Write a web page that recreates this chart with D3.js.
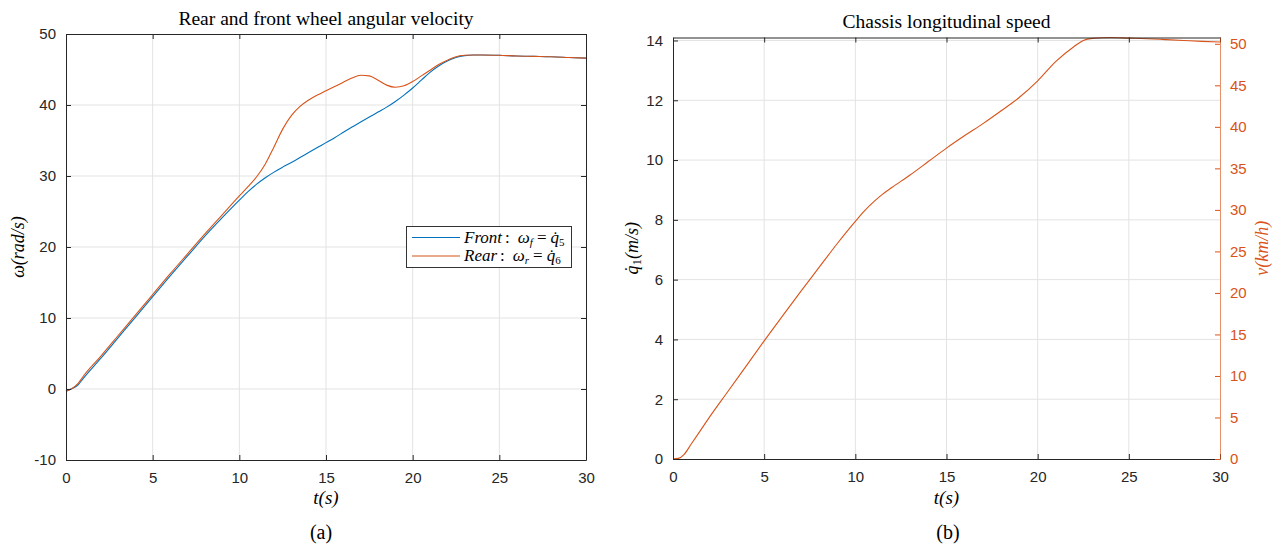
<!DOCTYPE html>
<html><head><meta charset="utf-8">
<script src="https://cdn.jsdelivr.net/npm/d3@7"></script>
<style>
body{margin:0;background:#fff;}
svg{display:block;}
</style></head>
<body>
<svg id="chart" width="1272" height="555"></svg>
<script>
// ---------------- DATA ----------------
const timeA = [0,0.3,0.7,1,2,3,4,5,6,7,8,9,10,10.5,11,11.5,12,12.5,13,13.5,14,14.5,15,15.5,16,16.5,17,17.5,18,18.5,19,19.5,20,20.5,21,21.5,22,22.5,23,23.5,24,25,26,27,28,29,30];
const frontOmega = [-0.3,0,0.6,1.5,4.3,7.2,10.1,13.0,15.9,18.7,21.5,24.1,26.6,27.8,28.85,29.75,30.55,31.25,31.9,32.6,33.3,34.0,34.7,35.4,36.15,36.9,37.6,38.3,39.0,39.7,40.5,41.4,42.4,43.5,44.6,45.5,46.2,46.7,46.95,47.05,47.05,47.0,46.9,46.85,46.8,46.7,46.6];
const rearOmega = [-0.3,0,0.8,1.8,4.6,7.5,10.4,13.3,16.2,19.0,21.8,24.5,27.2,28.5,29.9,31.7,34.1,36.6,38.5,39.8,40.7,41.4,42.0,42.6,43.2,43.8,44.2,44.1,43.5,42.8,42.5,42.7,43.3,44.1,44.9,45.7,46.3,46.8,47.0,47.05,47.05,47.0,46.9,46.85,46.8,46.7,46.6];

const timeB = [0,0.3,0.6,1,1.5,2,3,4,5,6,7,8,9,10,10.5,11,11.5,12,13,14,15,16,17,18,19,20,21,22,22.5,23,24,25,26,27,28,29,30];
const chassisSpeed = [0,0.02,0.15,0.5,0.95,1.4,2.25,3.1,3.95,4.78,5.6,6.4,7.2,7.95,8.3,8.6,8.86,9.08,9.5,9.95,10.4,10.82,11.22,11.65,12.1,12.65,13.3,13.8,14.0,14.07,14.1,14.08,14.06,14.03,14.0,13.97,13.95];

const xTicks = [0,5,10,15,20,25,30];
const yTicksA = [-10,0,10,20,30,40,50];
const yTicksB = [0,2,4,6,8,10,12,14];
const yTicksBRight = [0,5,10,15,20,25,30,35,40,45,50];
const msToKmh = 3.6;

// ---------------- STYLE ----------------
const BLUE = "#0072BD", ORANGE = "#D95319";
const AXIS = "#262626", GRID = "#e3e3e3";
const SANS = "'Liberation Sans', Arial, sans-serif";
const SERIF = "'Liberation Serif', 'DejaVu Serif', serif";
const fmt = d => String(d);

const svg = d3.select("#chart");

function panel(cfg) {
  const g = svg.append("g");
  const x = d3.scaleLinear().domain([0,30]).range([cfg.x0, cfg.x1]);
  const y = d3.scaleLinear().domain(cfg.yDomain).range([cfg.y1, cfg.y0]);
  g.append("g").selectAll("line").data(xTicks.slice(1,-1)).join("line")
    .attr("x1", d=>x(d)).attr("x2", d=>x(d)).attr("y1", cfg.y0).attr("y2", cfg.y1)
    .attr("stroke", GRID).attr("stroke-width", 1);
  g.append("g").selectAll("line").data(cfg.yTicks.filter(d=>y(d)>cfg.y0+1 && y(d)<cfg.y1-1)).join("line")
    .attr("x1", cfg.x0).attr("x2", cfg.x1).attr("y1", d=>y(d)).attr("y2", d=>y(d))
    .attr("stroke", GRID).attr("stroke-width", 1);
  return {g, x, y};
}

function styleAxis(sel, color) {
  sel.selectAll("text").attr("font-family", SANS).attr("font-size", 15).attr("fill", color);
  sel.selectAll("line").attr("stroke", color);
  sel.select(".domain").attr("stroke", color);
}

// ======== Panel A ========
const A = {x0:66, x1:586, y0:34, y1:460, yDomain:[-10,50], yTicks:yTicksA};
const pa = panel(A);
const lineA = d3.line().x(d=>pa.x(d[0])).y(d=>pa.y(d[1])).curve(d3.curveMonotoneX);
pa.g.append("path").datum(timeA.map((t,i)=>[t,frontOmega[i]]))
  .attr("d", lineA).attr("fill","none").attr("stroke", BLUE).attr("stroke-width",1.1);
pa.g.append("path").datum(timeA.map((t,i)=>[t,rearOmega[i]]))
  .attr("d", lineA).attr("fill","none").attr("stroke", ORANGE).attr("stroke-width",1.1);

let ax;
ax = pa.g.append("g").attr("transform",`translate(0,${A.y1})`)
  .call(d3.axisBottom(pa.x).tickValues(xTicks).tickFormat(fmt).tickSizeInner(-5).tickSizeOuter(0).tickPadding(12));
styleAxis(ax, AXIS);
ax = pa.g.append("g").attr("transform",`translate(0,${A.y0})`)
  .call(d3.axisTop(pa.x).tickValues(xTicks).tickSizeInner(-5).tickSizeOuter(0).tickFormat(""));
styleAxis(ax, AXIS);
ax = pa.g.append("g").attr("transform",`translate(${A.x0},0)`)
  .call(d3.axisLeft(pa.y).tickValues(yTicksA).tickFormat(fmt).tickSizeInner(-5).tickSizeOuter(0).tickPadding(10));
styleAxis(ax, AXIS);
ax = pa.g.append("g").attr("transform",`translate(${A.x1},0)`)
  .call(d3.axisRight(pa.y).tickValues(yTicksA).tickSizeInner(-5).tickSizeOuter(0).tickFormat(""));
styleAxis(ax, AXIS);

svg.append("text").attr("x",(A.x0+A.x1)/2).attr("y",24.5).attr("text-anchor","middle")
  .attr("font-family",SERIF).attr("font-size",19.5).attr("fill","#000")
  .text("Rear and front wheel angular velocity");
svg.append("text").attr("x",(A.x0+A.x1)/2).attr("y",504).attr("text-anchor","middle")
  .attr("font-family",SERIF).attr("font-size",19).attr("font-style","italic").attr("fill","#000")
  .text("t(s)");
svg.append("text").attr("transform",`translate(24,${(A.y0+A.y1)/2}) rotate(-90)`).attr("text-anchor","middle")
  .attr("font-family",SERIF).attr("font-size",18).attr("font-style","italic").attr("fill","#000")
  .text("ω(rad/s)");
svg.append("text").attr("x",321).attr("y",539).attr("text-anchor","middle")
  .attr("font-family",SERIF).attr("font-size",20).attr("fill","#000").text("(a)");

// legend
const leg = svg.append("g");
leg.append("rect").attr("x",406.5).attr("y",226.5).attr("width",165).attr("height",41)
  .attr("fill","#fff").attr("stroke","#333").attr("stroke-width",1);
const legItems = [
  {color:BLUE, name:"Front", sub:"f", num:"5", y:237.5},
  {color:ORANGE, name:"Rear", sub:"r", num:"6", y:256}
];
legItems.forEach(it=>{
  leg.append("line").attr("x1",412).attr("x2",460).attr("y1",it.y).attr("y2",it.y)
    .attr("stroke",it.color).attr("stroke-width",1.2);
  const t = leg.append("text").attr("x",464).attr("y",it.y+5)
    .attr("font-family",SERIF).attr("font-size",17).attr("fill","#000");
  t.append("tspan").attr("font-style","italic").text(it.name);
  t.append("tspan").attr("dx",3).text(":");
  t.append("tspan").attr("dx",8).attr("font-style","italic").text("ω");
  t.append("tspan").attr("font-style","italic").attr("font-size",11).attr("dy",3).text(it.sub);
  t.append("tspan").attr("dy",-3).attr("dx",4).text("=");
  t.append("tspan").attr("dx",4).attr("font-style","italic").text("q\u0307");
  t.append("tspan").attr("font-size",11).attr("dy",3).text(it.num);
});

// ======== Panel B ========
const B = {x0:673, x1:1220, y0:37.5, y1:459, yDomain:[0,14.1], yTicks:yTicksB};
const pb = panel(B);
const yR = d3.scaleLinear().domain([0, 14.1*msToKmh]).range([B.y1, B.y0]);
const lineB = d3.line().x(d=>pb.x(d[0])).y(d=>pb.y(d[1])).curve(d3.curveMonotoneX);
pb.g.append("path").datum(timeB.map((t,i)=>[t,chassisSpeed[i]]))
  .attr("d", lineB).attr("fill","none").attr("stroke", ORANGE).attr("stroke-width",1.1);

ax = pb.g.append("g").attr("transform",`translate(0,${B.y1})`)
  .call(d3.axisBottom(pb.x).tickValues(xTicks).tickFormat(fmt).tickSizeInner(-5).tickSizeOuter(0).tickPadding(12));
styleAxis(ax, AXIS);
ax = pb.g.append("g").attr("transform",`translate(0,${B.y0})`)
  .call(d3.axisTop(pb.x).tickValues(xTicks).tickSizeInner(-5).tickSizeOuter(0).tickFormat(""));
styleAxis(ax, AXIS);
ax = pb.g.append("g").attr("transform",`translate(${B.x0},0)`)
  .call(d3.axisLeft(pb.y).tickValues(yTicksB).tickFormat(fmt).tickSizeInner(-5).tickSizeOuter(0).tickPadding(10));
styleAxis(ax, AXIS);
ax = pb.g.append("g").attr("transform",`translate(${B.x1},0)`)
  .call(d3.axisRight(yR).tickValues(yTicksBRight).tickFormat(fmt).tickSizeInner(-5).tickSizeOuter(0).tickPadding(10));
styleAxis(ax, ORANGE);
ax.select(".domain").attr("stroke-opacity",0.65);

svg.append("text").attr("x",(B.x0+B.x1)/2).attr("y",27.5).attr("text-anchor","middle")
  .attr("font-family",SERIF).attr("font-size",19.5).attr("fill","#000")
  .text("Chassis longitudinal speed");
svg.append("text").attr("x",(B.x0+B.x1)/2).attr("y",504).attr("text-anchor","middle")
  .attr("font-family",SERIF).attr("font-size",19).attr("font-style","italic").attr("fill","#000")
  .text("t(s)");
const ql = svg.append("text").attr("transform",`translate(638,${(B.y0+B.y1)/2}) rotate(-90)`).attr("text-anchor","middle")
  .attr("font-family",SERIF).attr("font-size",18).attr("fill","#000");
ql.append("tspan").attr("font-style","italic").text("q\u0307");
ql.append("tspan").attr("font-size",13).attr("dy",3).text("1");
ql.append("tspan").attr("font-style","italic").attr("dy",-3).text("(m/s)");
svg.append("text").attr("transform",`translate(1268,${(B.y0+B.y1)/2}) rotate(-90)`).attr("text-anchor","middle")
  .attr("font-family",SERIF).attr("font-size",18).attr("font-style","italic").attr("fill",ORANGE)
  .text("v(km/h)");
svg.append("text").attr("x",948).attr("y",539).attr("text-anchor","middle")
  .attr("font-family",SERIF).attr("font-size",20).attr("fill","#000").text("(b)");
</script>
</body></html>
